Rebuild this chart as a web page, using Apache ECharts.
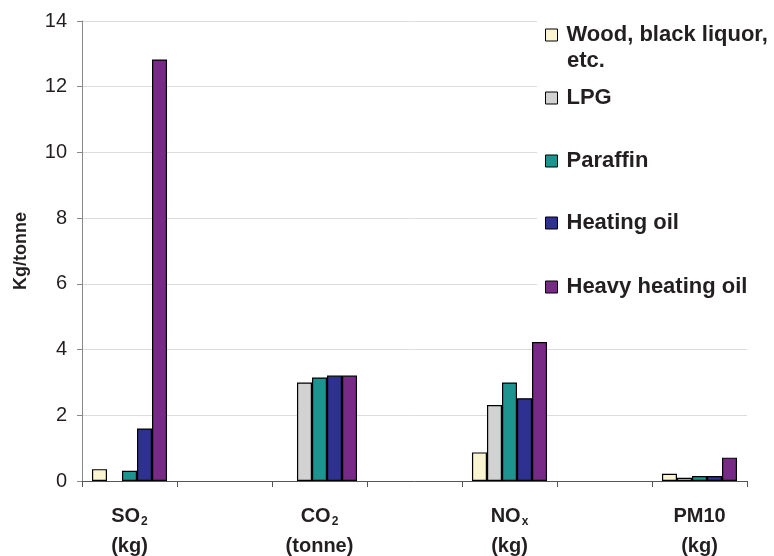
<!DOCTYPE html>
<html>
<head>
<meta charset="utf-8">
<script src="https://cdn.jsdelivr.net/npm/echarts@6/dist/echarts.min.js"></script>
<style>html,body{margin:0;padding:0;background:#fff}#c{width:774px;height:556px}</style>
</head>
<body>
<div id="c"></div>
<script>
// Categories (blank entries are spacer categories between groups)
var categories = ['SO2 (kg)', '', 'CO2 (tonne)', '', 'NOx (kg)', '', 'PM10 (kg)'];
var seriesNames = ['Wood, black liquor, etc.', 'LPG', 'Paraffin', 'Heating oil', 'Heavy heating oil'];
// Values per group: SO2, CO2, NOx, PM10
var wood      = [0.36, null, 0.87, 0.22];
var lpg       = [null, 3.00, 2.31, 0.10];
var paraffin  = [0.31, 3.15, 3.00, 0.15];
var heating   = [1.60, 3.21, 2.52, 0.15];
var heavy     = [12.83, 3.21, 4.23, 0.71];
var yTicks = [0, 2, 4, 6, 8, 10, 12, 14];

var colors = ['#FAF5D0', '#D2D2D2', '#1E9490', '#2E3190', '#782A87'];
var txt = '#231f20';

function spread(arr) {
  // place the 4 group values at category indices 0,2,4,6
  var out = [];
  for (var i = 0; i < arr.length; i++) {
    out.push(arr[i]);
    if (i < arr.length - 1) out.push(null);
  }
  return out;
}
var allData = [wood, lpg, paraffin, heating, heavy];

var labelMap = {
  'SO2 (kg)': '{a|SO}{s|2}\n{a|(kg)}',
  'CO2 (tonne)': '{a|CO}{s|2}\n{a|(tonne)}',
  'NOx (kg)': '{a|NO}{s|x}\n{a|(kg)}',
  'PM10 (kg)': '{a|PM10}\n{a|(kg)}'
};

var legendTops = [35, 98, 161, 223, 287];
var legends = seriesNames.map(function (n, i) {
  return {
    data: [n],
    orient: 'vertical',
    left: 545,
    top: legendTops[i] - 13,
    padding: 0,
    itemWidth: 12,
    itemHeight: 12,
    icon: 'rect',
    selectedMode: false,
    itemStyle: { borderColor: '#000', borderWidth: 1 },
    formatter: function (name) { return name === seriesNames[0] ? 'Wood, black liquor,' : name; },
    textStyle: { fontFamily: 'Liberation Sans, Arial, sans-serif', fontSize: 22, fontWeight: 'bold', color: txt, lineHeight: 26, padding: [0, 0, 0, 4] }
  };
});

var chart = echarts.init(document.getElementById('c'), null, { renderer: 'canvas' });
chart.setOption({
  animation: false,
  backgroundColor: '#fff',
  grid: { left: 82, right: 27, top: 21, bottom: 74, containLabel: false },
  legend: legends,
  graphic: [
    { type: 'rect', z: 3, shape: { x: 537, y: 14, width: 237, height: 292 }, style: { fill: '#fff' } },
    { type: 'text', z: 5, left: 567, top: 50, style: { text: 'etc.', fontFamily: 'Liberation Sans, Arial, sans-serif', fontSize: 22, fontWeight: 'bold', fill: txt } }
  ],
  xAxis: {
    type: 'category',
    data: categories,
    boundaryGap: true,
    axisLine: { lineStyle: { color: '#555', width: 1 } },
    axisTick: { show: true, interval: 0, length: 6, lineStyle: { color: '#555' } },
    axisLabel: {
      interval: 0,
      margin: 20,
      formatter: function (v) { return labelMap[v] || ''; },
      rich: {
        a: { fontFamily: 'Liberation Sans, Arial, sans-serif', fontSize: 20, fontWeight: 'bold', color: txt, lineHeight: 30 },
        s: { fontFamily: 'Liberation Sans, Arial, sans-serif', fontSize: 12, fontWeight: 'bold', color: txt, padding: [12, 0, 0, 1] }
      }
    },
    splitLine: { show: false }
  },
  yAxis: {
    type: 'value',
    min: yTicks[0],
    max: yTicks[yTicks.length - 1],
    interval: 2,
    name: 'Kg/tonne',
    nameLocation: 'middle',
    nameRotate: 90,
    nameGap: 52,
    nameTextStyle: { fontFamily: 'Liberation Sans, Arial, sans-serif', fontSize: 18, fontWeight: 'bold', color: txt },
    axisLine: { show: true, lineStyle: { color: '#888', width: 1 } },
    axisTick: { show: true, length: 5, lineStyle: { color: '#888' } },
    axisLabel: { margin: 15, fontFamily: 'Liberation Sans, Arial, sans-serif', fontSize: 20, color: txt },
    splitLine: { show: true, lineStyle: { color: '#dcdcdc', width: 1 } }
  },
  series: seriesNames.map(function (n, i) {
    return {
      name: n,
      type: 'bar',
      data: spread(allData[i]),
      barGap: 0,
      barCategoryGap: '21%',
      itemStyle: { color: colors[i], borderColor: '#000', borderWidth: 1.2 }
    };
  })
});
</script>
</body>
</html>
